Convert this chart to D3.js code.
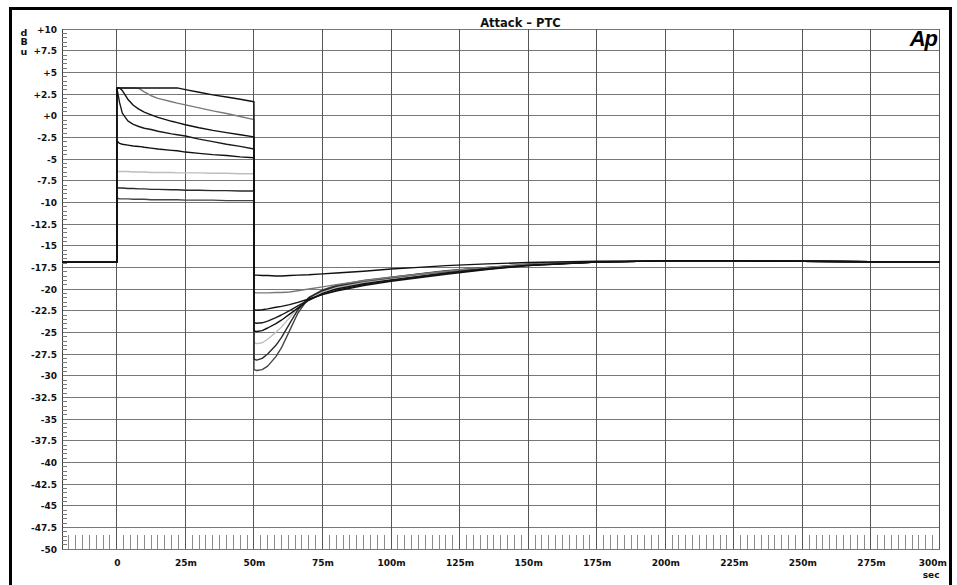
<!DOCTYPE html>
<html>
<head>
<meta charset="utf-8">
<script src="https://cdn.jsdelivr.net/npm/d3@7"></script>
<style>
html,body{margin:0;padding:0;background:#fff;}
svg{display:block;}
</style>
</head>
<body>
<svg id="chart" width="957" height="585"></svg>
<script>
// ---- data ----
const title = "Attack – PTC";
const yUnit = ["d", "B", "u"];
const xUnit = "sec";
const yTicks = [10, 7.5, 5, 2.5, 0, -2.5, -5, -7.5, -10, -12.5, -15, -17.5, -20, -22.5, -25, -27.5, -30, -32.5, -35, -37.5, -40, -42.5, -45, -47.5, -50];
const xTicks = [0, 25, 50, 75, 100, 125, 150, 175, 200, 225, 250, 275, 300];

// time in ms
const times = [-20, -10, 0, 0, 1, 2, 4, 6, 8, 10, 12.5, 15, 20, 22, 25, 30, 35, 40, 45, 50,
  50, 51, 53, 55, 58, 60, 63, 66, 70, 75, 80, 90, 100, 110, 120, 135, 150, 175, 200, 225, 250, 275, 300];

const trace1 = [-16.9, -16.9, -16.9, 3.2,
  3.2, 3.2, 3.2, 3.2, 3.2, 3.2, 3.2, 3.2, 3.2, 3.2, 3.0, 2.7, 2.4, 2.15, 1.9, 1.6,
  -18.4, -18.4, -18.45, -18.45, -18.5, -18.5, -18.45, -18.4, -18.35, -18.25, -18.15, -17.95, -17.7, -17.5, -17.3, -17.1, -16.95, -16.8, -16.75, -16.75, -16.8, -16.85, -16.85];
const trace2 = [-16.9, -16.9, -16.9, 3.2,
  3.2, 3.2, 3.2, 3.2, 3.15, 2.75, 2.3, 2.0, 1.6, 1.45, 1.25, 0.9, 0.55, 0.25, -0.1, -0.45,
  -20.4, -20.45, -20.45, -20.45, -20.4, -20.4, -20.35, -20.2, -20.0, -19.75, -19.5, -19.05, -18.65, -18.3, -17.95, -17.5, -17.15, -16.85, -16.75, -16.75, -16.8, -16.85, -16.85];
const trace3 = [-16.9, -16.9, -16.9, 3.2,
  3.2, 2.9, 1.9, 1.2, 0.75, 0.4, 0.1, -0.2, -0.65, -0.8, -1.05, -1.4, -1.7, -1.95, -2.2, -2.45,
  -22.4, -22.45, -22.4, -22.3, -22.1, -22.0, -21.8, -21.55, -21.15, -20.65, -20.25, -19.6, -19.1, -18.7, -18.3, -17.75, -17.3, -16.9, -16.75, -16.75, -16.8, -16.85, -16.85];
const trace4 = [-16.9, -16.9, -16.9, 3.2,
  1.5, 0.3, -0.6, -1.0, -1.25, -1.45, -1.6, -1.8, -2.1, -2.2, -2.35, -2.7, -3.0, -3.3, -3.55, -3.85,
  -23.9, -23.95, -23.9, -23.7, -23.3, -23.0, -22.5, -21.95, -21.25, -20.6, -20.15, -19.5, -19.0, -18.6, -18.2, -17.7, -17.3, -16.9, -16.75, -16.75, -16.8, -16.85, -16.85];
const trace5 = [-16.9, -16.9, -16.9, -2.9,
  -3.2, -3.3, -3.4, -3.5, -3.55, -3.65, -3.75, -3.85, -4.0, -4.05, -4.2, -4.35, -4.5, -4.6, -4.75, -4.85,
  -24.85, -24.9, -24.8, -24.5, -24.0, -23.6, -22.9, -22.2, -21.3, -20.5, -20.0, -19.4, -18.95, -18.55, -18.15, -17.65, -17.25, -16.9, -16.75, -16.75, -16.8, -16.85, -16.85];
const trace6 = [-16.9, -16.9, -16.9, -6.4,
  -6.45, -6.45, -6.45, -6.5, -6.5, -6.5, -6.55, -6.55, -6.55, -6.6, -6.6, -6.6, -6.65, -6.65, -6.7, -6.7,
  -26.2, -26.3, -26.2, -25.8, -25.0, -24.4, -23.3, -22.2, -21.1, -20.35, -19.85, -19.25, -18.8, -18.4, -18.05, -17.6, -17.2, -16.9, -16.75, -16.75, -16.8, -16.85, -16.85];
const trace7 = [-16.9, -16.9, -16.9, -8.3,
  -8.35, -8.35, -8.4, -8.4, -8.45, -8.45, -8.5, -8.5, -8.55, -8.55, -8.6, -8.6, -8.65, -8.65, -8.7, -8.7,
  -28.1, -28.2, -28.0, -27.5, -26.5, -25.6, -24.0, -22.4, -21.0, -20.2, -19.7, -19.1, -18.7, -18.3, -17.95, -17.55, -17.2, -16.9, -16.75, -16.75, -16.8, -16.85, -16.85];
const trace8 = [-16.9, -16.9, -16.9, -9.5,
  -9.6, -9.6, -9.6, -9.65, -9.65, -9.65, -9.7, -9.7, -9.7, -9.7, -9.75, -9.75, -9.75, -9.8, -9.8, -9.8,
  -29.3, -29.4, -29.3, -28.9, -27.8, -26.8, -24.8, -22.8, -21.0, -20.1, -19.6, -19.0, -18.65, -18.25, -17.9, -17.5, -17.15, -16.9, -16.75, -16.75, -16.8, -16.85, -16.85];

const traces = [trace1, trace2, trace3, trace4, trace5, trace6, trace7, trace8];
const traceColors = ["#111", "#7a7a7a", "#111", "#1a1a1a", "#111", "#bdbdbd", "#2a2a2a", "#444"];

// ---- drawing ----
const svg = d3.select("#chart");
const W = 957, H = 585;
const x = d3.scaleLinear().domain([-20, 300]).range([62, 939.5]);
const y = d3.scaleLinear().domain([-50, 10]).range([549, 29]);

svg.append("rect").attr("width", W).attr("height", H).attr("fill", "#fff");

const fontFam = "'DejaVu Sans', 'Noto Sans', sans-serif";

// grid
const grid = svg.append("g");
grid.selectAll("line.h").data(yTicks).join("line")
  .attr("x1", x(-20)).attr("x2", x(300))
  .attr("y1", d => y(d)).attr("y2", d => y(d))
  .attr("stroke", "#777").attr("stroke-width", 1).attr("shape-rendering", "crispEdges");
grid.selectAll("line.v").data(xTicks).join("line")
  .attr("x1", d => x(d)).attr("x2", d => x(d))
  .attr("y1", y(10)).attr("y2", y(-50))
  .attr("stroke", "#555").attr("stroke-width", 1).attr("shape-rendering", "crispEdges");

// left axis line + minor ticks
svg.append("line").attr("x1", x(-20)).attr("x2", x(-20)).attr("y1", y(10)).attr("y2", y(-50))
  .attr("stroke", "#444").attr("shape-rendering", "crispEdges");
const yMinor = d3.range(-50, 10.001, 0.5).filter(v => Math.abs(v / 2.5 - Math.round(v / 2.5)) > 1e-6);
svg.append("g").selectAll("line").data(yMinor).join("line")
  .attr("x1", x(-20)).attr("x2", x(-20) + 5)
  .attr("y1", d => y(d)).attr("y2", d => y(d))
  .attr("stroke", "#777").attr("shape-rendering", "crispEdges");
// right edge
svg.append("line").attr("x1", x(300)).attr("x2", x(300)).attr("y1", y(10)).attr("y2", y(-50))
  .attr("stroke", "#555").attr("shape-rendering", "crispEdges");

// bottom minor ticks
const xMinor = d3.range(-17.5, 300, 2.5).filter(v => Math.abs(v / 25 - Math.round(v / 25)) > 1e-6);
svg.append("g").selectAll("line").data(xMinor).join("line")
  .attr("x1", d => x(d)).attr("x2", d => x(d))
  .attr("y1", y(-50)).attr("y2", y(-50) - 14)
  .attr("stroke", "#8a8a8a").attr("shape-rendering", "crispEdges");

// axes (labels)
const fmtY = v => (v >= 0 ? "+" : "") + (Object.is(v, -0) ? 0 : v);
const yAxis = svg.append("g").attr("transform", `translate(${x(-20) - 5},0)`)
  .call(d3.axisLeft(y).tickValues(yTicks).tickSize(0).tickPadding(0).tickFormat(fmtY));
yAxis.select(".domain").remove();
yAxis.selectAll("text").attr("font-family", fontFam).attr("font-size", 9).attr("font-weight", "bold")
  .attr("fill", "#111").attr("dy", "0.35em");

const xAxis = svg.append("g").attr("transform", `translate(0,${y(-50) + 11})`)
  .call(d3.axisBottom(x).tickValues(xTicks).tickSize(0).tickPadding(0).tickFormat(d => d === 0 ? "0" : d + "m"));
xAxis.select(".domain").remove();
xAxis.selectAll("text").attr("font-family", fontFam).attr("font-size", 9).attr("font-weight", "bold").attr("fill", "#111");
xAxis.selectAll(".tick").filter(d => d === 300).select("text").attr("text-anchor", "end").attr("x", 7);

svg.append("text").attr("x", x(300)).attr("y", 578).attr("text-anchor", "end")
  .attr("font-family", fontFam).attr("font-size", 9).attr("font-weight", "bold").attr("fill", "#111").text(xUnit);

// unit letters
svg.append("g").selectAll("text").data(yUnit).join("text")
  .attr("x", 24).attr("y", (d, i) => 35.5 + i * 9.5).attr("text-anchor", "middle")
  .attr("font-family", fontFam).attr("font-size", 9.5).attr("font-weight", "bold").attr("fill", "#111")
  .text(d => d);

// traces
const line = d3.line().x((d, i) => x(times[i])).y(d => y(d)).curve(d3.curveLinear);
const drawOrder = [5, 7, 6, 1, 4, 3, 2, 0];
svg.append("g").selectAll("path").data(drawOrder).join("path")
  .attr("d", k => line(traces[k]))
  .attr("fill", "none")
  .attr("stroke", k => traceColors[k])
  .attr("stroke-width", 1.4)
  .attr("stroke-linejoin", "round");

// title with white backing
svg.append("rect").attr("x", 473).attr("y", 12).attr("width", 103).attr("height", 16.5).attr("fill", "#fff");
svg.append("text").attr("x", 520.5).attr("y", 27).attr("text-anchor", "middle")
  .attr("font-family", fontFam).attr("font-size", 11.5).attr("font-weight", "bold").attr("fill", "#111")
  .text(title);

// Ap logo
svg.append("text").attr("x", 937).attr("y", 46).attr("text-anchor", "end")
  .attr("font-family", "'Liberation Sans', Arial, sans-serif").attr("font-size", 22)
  .attr("font-weight", "bold").attr("font-style", "italic").attr("fill", "#000")
  .attr("letter-spacing", "-1").text("Ap");

// outer frame
svg.append("rect").attr("x", 10.5).attr("y", 8.5).attr("width", 940).attr("height", 590)
  .attr("fill", "none").attr("stroke", "#000").attr("stroke-width", 3);
</script>
</body>
</html>
